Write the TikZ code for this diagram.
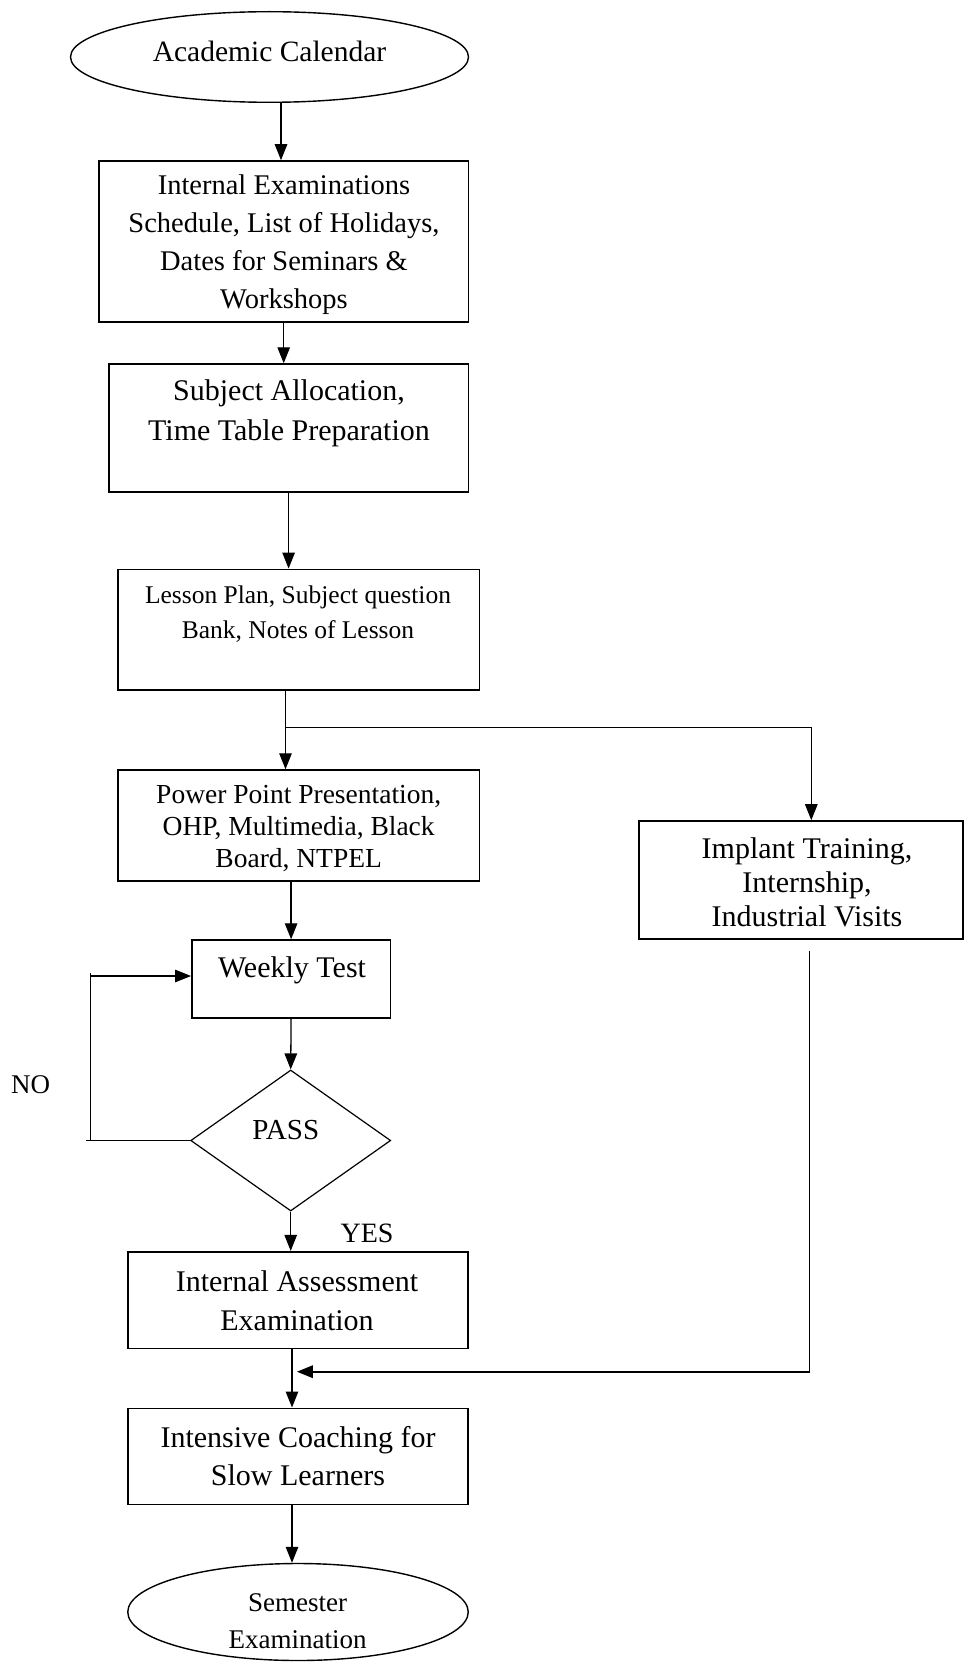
\documentclass[tikz,border=0pt]{standalone}
\usepackage{fontspec}
\setmainfont{Liberation Serif}
\usetikzlibrary{arrows.meta,shapes.geometric}
\begin{document}
\begin{tikzpicture}[x=1pt,y=-1pt,
  box/.style={draw,line width=1.6pt,rectangle,inner sep=0pt},
  oval/.style={draw,line width=1.4pt,ellipse,inner sep=0pt},
  dia/.style={draw,line width=1.2pt,diamond,inner sep=0pt},
  txt/.style={align=center,inner sep=0pt},
  conn/.style={line width=1.3pt},
  arr/.style={conn,-{Triangle[length=16pt,width=12.5pt]}}]
\useasboundingbox (0,0) rectangle (964,1664);
\fill[white] (0,0) rectangle (964,1664);
% shapes
\node[oval,minimum width=398pt,minimum height=90.6pt] (e1) at (269.5,57) {};
\node[box,minimum width=369.3pt,minimum height=161pt] (b1) at (283.7,241.5) {};
\node[box,minimum width=359.5pt,minimum height=127.7pt] (b2) at (288.6,427.9) {};
\node[box,minimum width=361.4pt,minimum height=120.7pt] (b3) at (298.7,629.7) {};
\node[box,minimum width=361.4pt,minimum height=110.7pt] (b4) at (298.7,825.4) {};
\node[box,minimum width=198.5pt,minimum height=77.7pt] (b5) at (291.1,978.9) {};
\node[dia,minimum width=200pt,minimum height=141pt] (d) at (290.7,1140.5) {};
\node[box,minimum width=323.8pt,minimum height=118pt] (im) at (801.1,880) {};
\node[box,minimum width=340.5pt,minimum height=96.6pt] (b6) at (298,1300) {};
\node[box,minimum width=340.5pt,minimum height=96pt] (b7) at (298,1456.3) {};
\node[oval,minimum width=340.5pt,minimum height=97pt] (e2) at (298,1612) {};
% texts
\node[txt,font=\fontsize{29.5}{38}\selectfont] (t1) at (269.5,51.7) {Academic Calendar};
\node[txt,font=\fontsize{28.5}{38}\selectfont] (t2) at (284,245) {Internal Examinations\\Schedule, List of Holidays,\\Dates for Seminars \&\\Workshops};
\node[txt,font=\fontsize{30}{40}\selectfont] (t3) at (289,413) {Subject Allocation,\\Time Table Preparation};
\node[txt,font=\fontsize{25.5}{35}\selectfont] (t4) at (298,614) {Lesson Plan, Subject question\\Bank, Notes of Lesson};
\node[txt,font=\fontsize{27.5}{32}\selectfont] (t5) at (298.7,829) {Power Point Presentation,\\OHP, Multimedia, Black\\Board, NTPEL};
\node[txt,font=\fontsize{30}{38}\selectfont] (t6) at (292,970) {Weekly Test};
\node[txt,font=\fontsize{29}{38}\selectfont] (t7) at (285.8,1130) {PASS};
\node[txt,font=\fontsize{30}{34}\selectfont] (t8) at (807,882.5) {Implant Training,\\Internship,\\Industrial Visits};
\node[txt,font=\fontsize{30}{39}\selectfont] (t9) at (297,1300.5) {Internal Assessment\\Examination};
\node[txt,font=\fontsize{30}{38}\selectfont] (t10) at (298,1456) {Intensive Coaching for\\Slow Learners};
\node[txt,font=\fontsize{27}{37}\selectfont] (t11) at (297.5,1621.5) {Semester\\Examination};
\node[txt,font=\fontsize{27}{36}\selectfont] (no) at (30.7,1085) {NO};
\node[txt,font=\fontsize{28}{36}\selectfont] (yes) at (367,1233) {YES};
% helper coordinates
\coordinate (j1) at (285.5,727.7);
\coordinate (j2) at (811.3,727.7);
\coordinate (n1) at (86,1140.5);
\coordinate (n2) at (90.4,972.7);
\coordinate (n3) at (90.4,976);
\coordinate (n4) at (90.4,1140.5);
\coordinate (k1) at (809.5,950.7);
\coordinate (k2) at (809.5,1371.7);
\coordinate (k3) at (296.9,1371.7);
\coordinate (xa) at (292,0);
% connectors
\draw[arr] ([xshift=11.5pt]e1.south) -- ([xshift=11.5pt]e1.south |- b1.north);
\draw[arr] (b1.south) -- (b1.south |- b2.north);
\draw[arr] (b2.south) -- (b2.south |- b3.north);
\draw[arr] (b3.south -| j1) -- (b4.north -| j1);
\draw[arr] (j1) -- (j2) -- (j2 |- im.north);
\draw[arr] (b4.south -| b5.north) -- (b5.north);
\draw[arr] (b5.south) -- (d.north);
\draw[conn] (d.west) -- (n1);
\draw[conn] (n4) -- (n2);
\draw[arr] (n3) -- (n3 -| b5.west);
\draw[arr] (d.south) -- (d.south |- b6.north);
\draw[arr] (b6.south -| xa) -- (b7.north -| xa);
\draw[arr] (b7.south -| xa) -- (e2.north -| xa);
\draw[conn] (k1) -- (k2);
\draw[arr,line width=1.8pt] (k2) -- (k3);
\end{tikzpicture}
\end{document}
